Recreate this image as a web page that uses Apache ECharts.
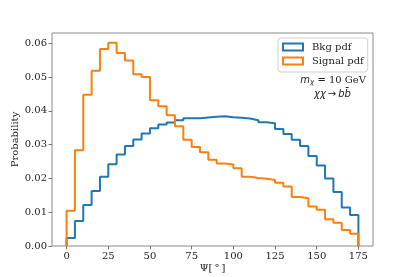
<!DOCTYPE html>
<html>
<head>
<meta charset="utf-8">
<script src="https://cdn.jsdelivr.net/npm/echarts@6/dist/echarts.min.js"></script>
<style>html,body{margin:0;padding:0;background:#fff;}#c{width:415px;height:277px;}</style>
</head>
<body>
<div id="c"></div>
<script>
// Histogram bins: 5 degree wide, starting at 0
const binStart = 0;
const binWidth = 5;
const xTicks = [0, 25, 50, 75, 100, 125, 150, 175];
const yTicks = [0, 0.01, 0.02, 0.03, 0.04, 0.05, 0.06];
const seriesNames = ['Bkg pdf', 'Signal pdf'];
const bkg = [0.0024, 0.0074, 0.0121, 0.0163, 0.0205, 0.0242, 0.0271, 0.0296, 0.0315, 0.0333,
             0.0348, 0.0359, 0.0365, 0.0372, 0.0378, 0.0378, 0.0380, 0.0382, 0.0384, 0.0381,
             0.0379, 0.0377, 0.0372, 0.0366, 0.0363, 0.0346, 0.0331, 0.0314, 0.0296, 0.0266,
             0.0238, 0.0200, 0.0160, 0.0114, 0.0092];
const signal = [0.0104, 0.0283, 0.0447, 0.0518, 0.0583, 0.0601, 0.0571, 0.0549, 0.0508, 0.0500,
                0.0431, 0.0413, 0.0387, 0.0354, 0.0314, 0.0293, 0.0277, 0.0255, 0.0244, 0.0241,
                0.0230, 0.0205, 0.0201, 0.0199, 0.0195, 0.0187, 0.0176, 0.0145, 0.0141, 0.0117,
                0.0107, 0.0079, 0.0069, 0.0047, 0.0036];

function stepData(vals) {
  const d = [[binStart, 0]];
  vals.forEach((v, i) => d.push([binStart + i * binWidth, v]));
  const end = binStart + vals.length * binWidth;
  d.push([end, vals[vals.length - 1]]);
  d.push([end, 0]);
  return d;
}

const colors = ['#1f77b4', '#ff7f0e'];
const serif = 'DejaVu Serif';
const sans = 'DejaVu Sans';

const chart = echarts.init(document.getElementById('c'), null, {renderer: 'canvas'});
chart.setOption({
  animation: false,
  backgroundColor: '#fff',
  grid: {left: 52, top: 33, right: 42, bottom: 31, containLabel: false, outerBoundsMode: 'none',
         show: true, borderColor: '#8a8a8a', borderWidth: 1, backgroundColor: 'transparent'},
  xAxis: {
    type: 'value', min: -8.75, max: 183.75,
    name: 'Ψ[\u2009°\u2009]', nameLocation: 'middle', nameGap: 17, nameMoveOverlap: false,
    nameTextStyle: {fontFamily: serif, fontSize: 10, color: '#222'},
    axisLine: {show: false, onZero: false},
    splitLine: {show: false},
    axisTick: {show: true, inside: false, length: 3.5, customValues: xTicks, lineStyle: {color: '#555', width: 0.8}},
    axisLabel: {customValues: xTicks, margin: 5, fontFamily: serif, fontSize: 10, color: '#222'}
  },
  yAxis: {
    type: 'value', min: 0, max: 0.063,
    name: 'Probability', nameLocation: 'middle', nameGap: 32, nameRotate: 90, nameMoveOverlap: false,
    nameTextStyle: {fontFamily: serif, fontSize: 10, color: '#222'},
    axisLine: {show: false, onZero: false},
    splitLine: {show: false},
    axisTick: {show: true, inside: false, length: 3.5, customValues: yTicks, lineStyle: {color: '#555', width: 0.8}},
    axisLabel: {customValues: yTicks, margin: 5, fontFamily: serif, fontSize: 10, color: '#222', formatter: v => v.toFixed(2)}
  },
  legend: {
    orient: 'vertical', left: 278, top: 38, align: 'left',
    padding: [3, 4, 5, 4], itemGap: 2, itemWidth: 20, itemHeight: 7,
    backgroundColor: 'rgba(255,255,255,0.8)', borderColor: '#d0d0d0', borderWidth: 1, borderRadius: 3,
    icon: 'rect',
    textStyle: {fontFamily: serif, fontSize: 10, color: '#222', lineHeight: 12, padding: [0, 0, 0, 4]},
    data: seriesNames.map((n, i) => ({name: n, icon: 'rect', itemStyle: {color: 'rgba(0,0,0,0)', borderColor: colors[i], borderWidth: 2}}))
  },
  series: [bkg, signal].map((vals, i) => ({
    name: seriesNames[i], type: 'line', step: 'end', symbol: 'none',
    data: stepData(vals),
    lineStyle: {color: colors[i], width: 2},
    itemStyle: {color: 'rgba(0,0,0,0)', borderColor: colors[i], borderWidth: 2},
    z: 2 + i
  })),
  graphic: [
    {type: 'text', z: 10, style: {
      x: 366, y: 80, align: 'right', verticalAlign: 'middle',
      text: '{it|m}{sub|χ}{sn| = }{sr|10 GeV}',
      rich: {
        it: {fontFamily: sans, fontStyle: 'italic', fontSize: 10, fill: '#222'},
        sub: {fontFamily: sans, fontStyle: 'italic', fontSize: 7, fill: '#222', verticalAlign: 'bottom', padding: [5, 0, 0, 0]},
        sn: {fontFamily: sans, fontSize: 10, fill: '#222'},
        sr: {fontFamily: serif, fontSize: 10, fill: '#222'}
      }
    }},
    {type: 'text', z: 10, style: {
      x: 314, y: 94, align: 'left', verticalAlign: 'middle',
      text: '{it|χχ}{sn|\u2009→\u2009}{it|bb\u0304}',
      rich: {
        it: {fontFamily: sans, fontStyle: 'italic', fontSize: 10, fill: '#222'},
        sn: {fontFamily: sans, fontSize: 10, fill: '#222'}
      }
    }}
  ]
});
</script>
</body>
</html>
